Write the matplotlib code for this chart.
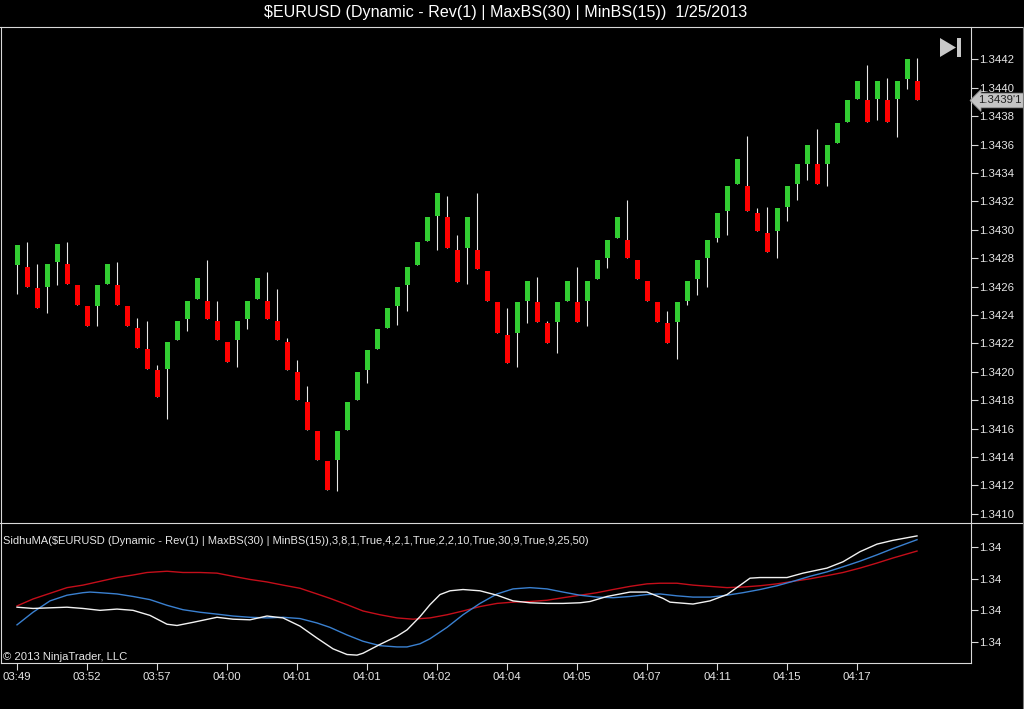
import matplotlib
matplotlib.use("Agg")
import matplotlib.pyplot as plt
from matplotlib.lines import Line2D
from matplotlib.patches import Polygon, Rectangle
from matplotlib.transforms import blended_transform_factory

plt.rcParams['font.family'] = ['Liberation Sans', 'DejaVu Sans']

# ---------------- data ----------------
opens = [1.34275, 1.34274, 1.34259, 1.34260, 1.34277, 1.34276, 1.34261, 1.34246, 1.34246, 1.34262,
         1.34261, 1.34246, 1.34231, 1.34216, 1.34201, 1.34202, 1.34222, 1.34237, 1.34251, 1.34250,
         1.34236, 1.34221, 1.34222, 1.34237, 1.34251, 1.34250, 1.34236, 1.34221, 1.34200, 1.34179,
         1.34158, 1.34137, 1.34138, 1.34159, 1.34180, 1.34201, 1.34216, 1.34231, 1.34246, 1.34261,
         1.34275, 1.34292, 1.34310, 1.34309, 1.34286, 1.34287, 1.34286, 1.34271, 1.34249, 1.34226,
         1.34227, 1.34250, 1.34249, 1.34234, 1.34235, 1.34250, 1.34249, 1.34250, 1.34265, 1.34280,
         1.34294, 1.34293, 1.34279, 1.34264, 1.34249, 1.34234, 1.34235, 1.34250, 1.34265, 1.34280,
         1.34294, 1.34313, 1.34332, 1.34331, 1.34312, 1.34298, 1.34299, 1.34316, 1.34332, 1.34346,
         1.34346, 1.34346, 1.34361, 1.34376, 1.34392, 1.34391, 1.34392, 1.34391, 1.34392, 1.34406,
         1.34405]
highs = [1.34289, 1.34291, 1.34276, 1.34276, 1.34290, 1.34291, 1.34261, 1.34246, 1.34261, 1.34276,
         1.34277, 1.34246, 1.34238, 1.34236, 1.34205, 1.34221, 1.34236, 1.34250, 1.34266, 1.34279,
         1.34250, 1.34221, 1.34236, 1.34250, 1.34266, 1.34270, 1.34258, 1.34224, 1.34208, 1.34190,
         1.34158, 1.34137, 1.34158, 1.34179, 1.34200, 1.34215, 1.34230, 1.34245, 1.34260, 1.34274,
         1.34291, 1.34309, 1.34326, 1.34324, 1.34296, 1.34309, 1.34326, 1.34271, 1.34249, 1.34245,
         1.34249, 1.34264, 1.34267, 1.34236, 1.34249, 1.34264, 1.34274, 1.34264, 1.34279, 1.34293,
         1.34309, 1.34321, 1.34279, 1.34264, 1.34249, 1.34243, 1.34249, 1.34264, 1.34279, 1.34293,
         1.34312, 1.34331, 1.34350, 1.34366, 1.34315, 1.34316, 1.34315, 1.34331, 1.34346, 1.34360,
         1.34371, 1.34360, 1.34375, 1.34391, 1.34405, 1.34416, 1.34405, 1.34407, 1.34405, 1.34420,
         1.34421]
lows = [1.34255, 1.34260, 1.34245, 1.34241, 1.34261, 1.34262, 1.34247, 1.34232, 1.34232, 1.34262,
        1.34247, 1.34232, 1.34217, 1.34202, 1.34182, 1.34167, 1.34222, 1.34229, 1.34251, 1.34237,
        1.34222, 1.34207, 1.34203, 1.34230, 1.34251, 1.34237, 1.34222, 1.34201, 1.34180, 1.34159,
        1.34138, 1.34117, 1.34116, 1.34159, 1.34180, 1.34192, 1.34216, 1.34231, 1.34233, 1.34243,
        1.34275, 1.34292, 1.34286, 1.34287, 1.34263, 1.34262, 1.34272, 1.34250, 1.34227, 1.34206,
        1.34203, 1.34234, 1.34235, 1.34220, 1.34213, 1.34250, 1.34235, 1.34232, 1.34265, 1.34273,
        1.34294, 1.34280, 1.34265, 1.34250, 1.34235, 1.34220, 1.34209, 1.34247, 1.34254, 1.34260,
        1.34291, 1.34296, 1.34332, 1.34313, 1.34299, 1.34284, 1.34280, 1.34306, 1.34321, 1.34335,
        1.34332, 1.34331, 1.34361, 1.34376, 1.34392, 1.34376, 1.34377, 1.34376, 1.34365, 1.34399,
        1.34391]
closes = [1.34289, 1.34260, 1.34245, 1.34276, 1.34290, 1.34262, 1.34247, 1.34232, 1.34261, 1.34276,
          1.34247, 1.34232, 1.34217, 1.34202, 1.34182, 1.34221, 1.34236, 1.34250, 1.34266, 1.34237,
          1.34222, 1.34207, 1.34236, 1.34250, 1.34266, 1.34237, 1.34222, 1.34201, 1.34180, 1.34159,
          1.34138, 1.34117, 1.34158, 1.34179, 1.34200, 1.34215, 1.34230, 1.34245, 1.34260, 1.34274,
          1.34291, 1.34309, 1.34326, 1.34287, 1.34263, 1.34309, 1.34272, 1.34250, 1.34227, 1.34206,
          1.34249, 1.34264, 1.34235, 1.34220, 1.34249, 1.34264, 1.34235, 1.34264, 1.34279, 1.34293,
          1.34309, 1.34280, 1.34265, 1.34250, 1.34235, 1.34220, 1.34249, 1.34264, 1.34279, 1.34293,
          1.34312, 1.34331, 1.34350, 1.34313, 1.34299, 1.34284, 1.34315, 1.34331, 1.34346, 1.34360,
          1.34332, 1.34360, 1.34375, 1.34391, 1.34405, 1.34376, 1.34405, 1.34376, 1.34405, 1.34420,
          1.34391]

time_tick_bars = [0, 7, 14, 21, 28, 35, 42, 49, 56, 63, 70, 77, 84]
time_tick_labels = ["03:49", "03:52", "03:57", "04:00", "04:01", "04:01", "04:02",
                    "04:04", "04:05", "04:07", "04:11", "04:15", "04:17"]

price_ticks = [1.3410, 1.3412, 1.3414, 1.3416, 1.3418, 1.3420, 1.3422, 1.3424, 1.3426,
               1.3428, 1.3430, 1.3432, 1.3434, 1.3436, 1.3438, 1.3440, 1.3442]
ind_ticks = [1.3425, 1.3430, 1.3435, 1.3440]

# SidhuMA indicator lines (bar position, value)
red_x = [0, 1.6, 3.3, 5.0, 6.6, 8.3, 10.0, 11.6, 13.0, 15.0, 16.6, 18.3, 20.0, 21.6, 23.3, 25.0,
         26.6, 28.3, 30.0, 31.3, 33.0, 34.6, 36.3, 38.0, 39.6, 41.3, 43.0, 44.6, 46.3, 48.0, 49.6,
         51.3, 53.0, 54.6, 56.3, 58.0, 59.6, 61.3, 63.0, 64.3, 66.0, 67.6, 69.3, 71.0, 72.6, 74.3,
         76.0, 77.6, 79.3, 81.0, 82.6, 84.3, 86.0, 87.6, 90.0]
red_v = [1.34307, 1.34318, 1.34327, 1.34336, 1.34340, 1.34346, 1.34352, 1.34356, 1.34360, 1.34362,
         1.34360, 1.34360, 1.34359, 1.34354, 1.34349, 1.34345, 1.34340, 1.34335, 1.34326, 1.34319,
         1.34309, 1.34299, 1.34293, 1.34288, 1.34286, 1.34288, 1.34293, 1.34299, 1.34306, 1.34311,
         1.34313, 1.34314, 1.34316, 1.34320, 1.34324, 1.34328, 1.34333, 1.34338, 1.34342, 1.34343,
         1.34343, 1.34340, 1.34338, 1.34336, 1.34337, 1.34339, 1.34342, 1.34346, 1.34350, 1.34355,
         1.34360, 1.34367, 1.34375, 1.34383, 1.34394]

blue_x = [0, 1.6, 3.3, 5.0, 6.6, 7.3, 8.3, 10.0, 11.6, 13.3, 15.0, 16.6, 18.3, 20.0, 21.6, 23.3,
          25.0, 26.6, 28.3, 30.0, 31.3, 33.0, 34.6, 36.3, 38.0, 39.0, 40.3, 41.3, 43.0, 44.6, 46.3,
          48.0, 49.6, 51.3, 53.0, 54.6, 56.3, 58.0, 59.6, 61.3, 63.0, 64.3, 66.0, 67.6, 69.3, 71.0,
          72.6, 74.3, 76.0, 77.6, 79.3, 81.0, 82.6, 84.3, 86.0, 87.6, 90.0]
blue_v = [1.34277, 1.34297, 1.34315, 1.34324, 1.34328, 1.34329, 1.34328, 1.34326, 1.34322, 1.34317,
          1.34308, 1.34301, 1.34297, 1.34294, 1.34291, 1.34289, 1.34288, 1.34289, 1.34287, 1.34280,
          1.34273, 1.34261, 1.34251, 1.34244, 1.34242, 1.34242, 1.34247, 1.34255, 1.34273, 1.34293,
          1.34311, 1.34326, 1.34334, 1.34336, 1.34334, 1.34329, 1.34324, 1.34321, 1.34320, 1.34322,
          1.34325, 1.34326, 1.34323, 1.34321, 1.34321, 1.34324, 1.34328, 1.34333, 1.34339, 1.34346,
          1.34354, 1.34361, 1.34369, 1.34378, 1.34388, 1.34398, 1.34412]

white_x = [0, 1.6, 3.3, 5.0, 6.6, 8.3, 10.0, 11.6, 13.3, 15.0, 16.0, 17.6, 20.0, 21.6, 23.3, 25.0,
           26.6, 28.3, 30.0, 31.6, 33.0, 34.0, 34.6, 36.3, 38.0, 39.0, 40.3, 41.3, 42.3, 43.3, 44.6,
           46.3, 48.0, 49.6, 51.3, 53.0, 54.6, 56.3, 57.3, 59.0, 61.3, 63.0, 64.6, 65.3, 67.6, 69.3,
           71.0, 72.6, 73.3, 74.3, 77.0, 78.6, 81.0, 82.6, 84.3, 86.0, 87.6, 90.0]
white_v = [1.34305, 1.34303, 1.34304, 1.34305, 1.34303, 1.34300, 1.34302, 1.34300, 1.34292, 1.34278,
           1.34276, 1.34281, 1.34289, 1.34286, 1.34285, 1.34291, 1.34288, 1.34275, 1.34256, 1.34239,
           1.34230, 1.34229, 1.34232, 1.34246, 1.34259, 1.34269, 1.34290, 1.34309, 1.34325, 1.34331,
           1.34333, 1.34331, 1.34324, 1.34315, 1.34312, 1.34311, 1.34311, 1.34312, 1.34314, 1.34322,
           1.34329, 1.34329, 1.34319, 1.34313, 1.34310, 1.34315, 1.34325, 1.34343, 1.34351, 1.34352,
           1.34352, 1.34359, 1.34367, 1.34377, 1.34393, 1.34405, 1.34411, 1.34418]

title = "$EURUSD (Dynamic - Rev(1) | MaxBS(30) | MinBS(15))  1/25/2013"
ind_label = ("SidhuMA($EURUSD (Dynamic - Rev(1) | MaxBS(30) | MinBS(15)),"
             "3,8,1,True,4,2,1,True,2,2,10,True,30,9,True,9,25,50)")
copyright_label = "\u00a9 2013 NinjaTrader, LLC"

# ---------------- style ----------------
W, H = 1024, 709
BG = "black"
FG = "#e6e6e6"
AX = "#d9d9d9"
UP = "#32cd32"
DN = "#ff0000"

fig = plt.figure(figsize=(W / 100, H / 100), dpi=100, facecolor=BG)

def fx(px):
    return px / W

def fy(py):
    return 1 - py / H

left, right = 1, 970.7
top_main, sep, bot = 27, 523.3, 662.7
ax = fig.add_axes([fx(left), fy(sep), fx(right - left), (sep - top_main) / H], facecolor=BG)
ax2 = fig.add_axes([fx(left), fy(bot), fx(right - left), (bot - sep) / H], facecolor=BG, sharex=ax)

n = len(closes)
xs = list(range(n))

# wicks
ax.vlines(xs, lows, highs, color="#e8e8e8", linewidth=0.8, zorder=2)
# bodies
colors = [UP if c >= o else DN for o, c in zip(opens, closes)]
bottoms = [min(o, c) for o, c in zip(opens, closes)]
heights = [abs(c - o) for o, c in zip(opens, closes)]
ax.bar(xs, heights, bottom=bottoms, width=0.5, color=colors, linewidth=0, zorder=3)

ax.set_xlim(-1.6, 95.37)
ax.set_ylim(1.3409324, 1.3444275)
ax.set_yticks(price_ticks)
ax.set_yticklabels([f"{t:.4f}" for t in price_ticks])
ax.yaxis.tick_right()
ax.tick_params(axis="y", colors=AX, labelcolor=FG, labelsize=8.2, length=5, width=0.8, pad=0.8)
ax.tick_params(axis="x", bottom=False, labelbottom=False)
for s in ["top", "bottom"]:
    ax.spines[s].set_visible(False)
for s in ["left", "right"]:
    ax.spines[s].set_color(AX)
    ax.spines[s].set_linewidth(0.8)

# last price marker
last = closes[-1]
s = f"{last:.5f}"
last_lbl = s[:-1] + "'" + s[-1]
tr = blended_transform_factory(ax.transAxes, ax.transData)
ax.text(1.0075, last, last_lbl, transform=tr, ha="left", va="center", fontsize=8.2,
        color="#202020", clip_on=False, zorder=10,
        bbox=dict(boxstyle="larrow,pad=0.2", fc="#c4c4c4", ec="#9a9a9a", lw=0.6))

# lower panel
ax2.plot(red_x, red_v, color="#c40e1a", linewidth=1.0, zorder=3)
ax2.plot(blue_x, blue_v, color="#3a80d0", linewidth=1.0, zorder=4)
ax2.plot(white_x, white_v, color="#f2f2f2", linewidth=1.0, zorder=5)
ax2.set_ylim(1.34217, 1.34438)
ax2.set_yticks(ind_ticks)
ax2.set_yticklabels([f"{t:.2f}" for t in ind_ticks])
ax2.yaxis.tick_right()
ax2.tick_params(axis="y", colors=AX, labelcolor=FG, labelsize=8.2, length=5, width=0.8, pad=0.8)
ax2.set_xticks(time_tick_bars)
ax2.set_xticklabels(time_tick_labels)
ax2.tick_params(axis="x", colors=AX, labelcolor=FG, labelsize=8.2, length=5, width=0.8, pad=2)
ax2.spines["top"].set_visible(False)
for sp in ["left", "right", "bottom"]:
    ax2.spines[sp].set_color(AX)
    ax2.spines[sp].set_linewidth(0.8)
ax2.text(0.002, 0.873, ind_label, transform=ax2.transAxes, ha="left", va="center",
         fontsize=8.0, color=FG)
ax2.text(0.002, 0.039, copyright_label, transform=ax2.transAxes, ha="left", va="center",
         fontsize=8.1, color=FG)

# frame lines spanning the window
fig.add_artist(Line2D([0, 1], [fy(top_main), fy(top_main)], transform=fig.transFigure,
                      color=AX, linewidth=0.8))
fig.add_artist(Line2D([0, 1], [fy(sep), fy(sep)], transform=fig.transFigure,
                      color=AX, linewidth=0.8))
fig.add_artist(Line2D([fx(1022.7), fx(1022.7)], [0, fy(top_main)], transform=fig.transFigure,
                      color="#7a7a7a", linewidth=0.8))

# title
fig.text(0.494, fy(13), title, ha="center", va="center", fontsize=11.6, color="white")

# "scroll to end" icon
fig.patches.append(Polygon([[fx(940), fy(38)], [fx(940), fy(57)], [fx(956), fy(47.5)]],
                           closed=True, transform=fig.transFigure, fc="#c8c8c8", ec="none"))
fig.patches.append(Rectangle((fx(957.3), fy(57)), fx(3.4), 19 / H, transform=fig.transFigure,
                             fc="#c8c8c8", ec="none"))

fig.savefig("out.png", dpi=100, facecolor=BG)
